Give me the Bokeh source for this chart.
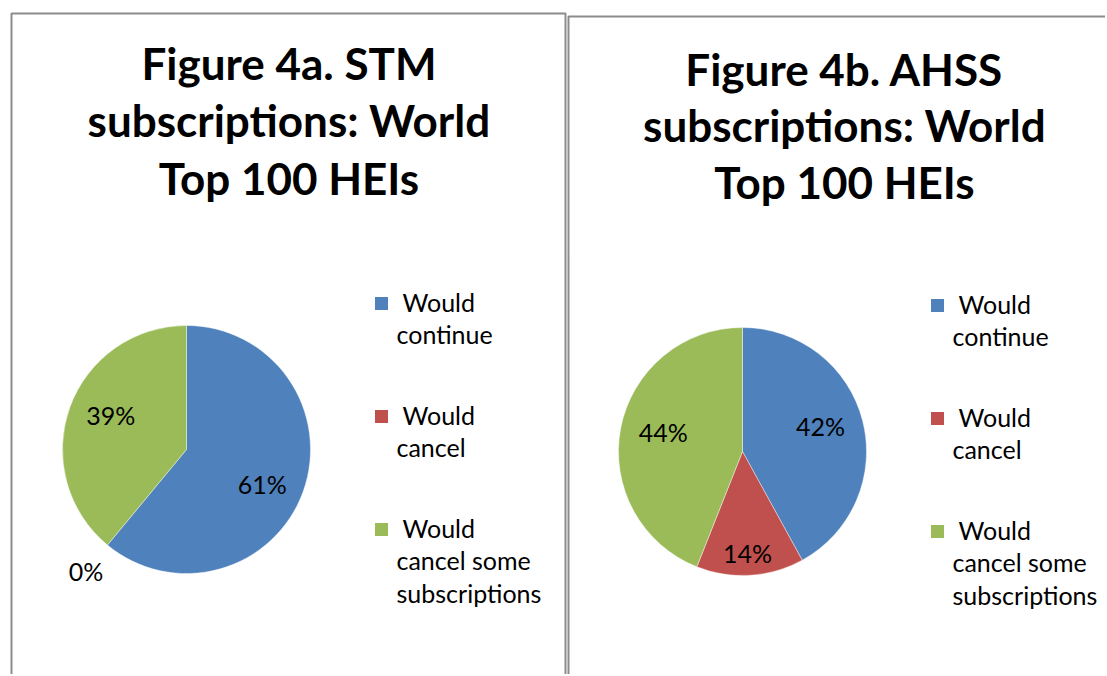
import math
from bokeh.plotting import figure
from bokeh.models import Range1d, ColumnDataSource
from bokeh.core.properties import value
from bokeh.embed import file_html
from bokeh.resources import INLINE

# ---------------- data ----------------
categories = ["Would continue", "Would cancel", "Would cancel some subscriptions"]
stm_values = [61, 0, 39]      # Figure 4a (%)
ahss_values = [42, 14, 44]    # Figure 4b (%)
colors = ["#4F81BD", "#C0504D", "#9BBB59"]
title_a = ["Figure 4a. STM", "subscriptions: World", "Top 100 HEIs"]
title_b = ["Figure 4b. AHSS", "subscriptions: World", "Top 100 HEIs"]
legend_lines = [["Would", "continue"], ["Would", "cancel"], ["Would", "cancel some", "subscriptions"]]

# ---------------- layout (screen px) ----------------
W, H = 1105, 674
FONT = "Lato"
p = figure(width=W, height=H, output_backend="svg", toolbar_location=None,
           x_range=Range1d(0, W), y_range=Range1d(-H, 0),
           x_axis_type=None, y_axis_type=None, min_border=0)
p.outline_line_color = None
p.grid.visible = False
p.background_fill_color = "white"


def Y(sy):
    return -sy


# panel borders
p.line(x=[11, 11, 565, 565], y=[Y(700), Y(13), Y(13), Y(700)], line_color="#8c8c8c", line_width=2)
p.line(x=[568, 568, 1120], y=[Y(700), Y(16), Y(16)], line_color="#8c8c8c", line_width=2)

panels = [
    dict(vals=stm_values, title=title_a, tx=288.5, tbase=[62, 119, 177],
         cx=186, cy=449, r=124, lx=381, lsq=303, ltx=396, lbase=301),
    dict(vals=ahss_values, title=title_b, tx=844, tbase=[68, 124, 181],
         cx=742, cy=451, r=124, lx=937, lsq=305, ltx=952, lbase=303),
]

for pn in panels:
    vals = pn["vals"]
    total = float(sum(vals))
    cx, cy, r = pn["cx"], Y(pn["cy"]), pn["r"]

    # wedges (clockwise from 12 o'clock)
    starts, ends, cols, lab_x, lab_y, lab_t = [], [], [], [], [], []
    cum = 0.0
    for v, c in zip(vals, colors):
        f0 = cum / total
        f1 = (cum + v) / total
        cum += v
        mid = (f0 + f1) / 2 * 2 * math.pi
        if v == 0:
            fx = fy = 1.27          # zero slice: label outside the pie
        else:
            fx, fy = 0.65, 0.82     # inside labels
        lab_x.append(cx + fx * r * math.sin(mid))
        lab_y.append(cy + fy * r * math.cos(mid))
        lab_t.append(f"{v}%")
        if v == 0:
            continue
        starts.append(math.pi / 2 - 2 * math.pi * f0)
        ends.append(math.pi / 2 - 2 * math.pi * f1)
        cols.append(c)
    src = ColumnDataSource(dict(x=[cx] * len(starts), y=[cy] * len(starts),
                                start=starts, end=ends, color=cols))
    p.wedge(x="x", y="y", radius=r, radius_units="screen", start_angle="start",
            end_angle="end", direction="clock", fill_color="color",
            line_color="white", line_width=0.8, line_alpha=0.5, source=src)

    # data labels
    p.text(x=lab_x, y=lab_y, text=lab_t, text_font=value(FONT), text_font_size="25px",
           text_color="#000000", text_align="center", text_baseline="middle")

    # title
    p.text(x=[pn["tx"]] * len(pn["title"]), y=[Y(b) for b in pn["tbase"]], text=pn["title"],
           text_font=value(FONT), text_font_style="bold", text_font_size="44px",
           text_color="#000000", text_align="center", text_baseline="alphabetic")

    # legend
    for i, (lines, c) in enumerate(zip(legend_lines, colors)):
        base = pn["lbase"] + i * 113
        p.rect(x=[pn["lx"]], y=[Y(pn["lsq"] + i * 113)], width=13, height=13,
               width_units="screen", height_units="screen", fill_color=c, line_color=None)
        xs = [pn["ltx"] + (6 if j == 0 else 0) for j in range(len(lines))]
        ys = [Y(base + j * 32.5) for j in range(len(lines))]
        p.text(x=xs, y=ys, text=lines, text_font=value(FONT), text_font_size="25px",
               text_color="#000000", text_align="left", text_baseline="alphabetic")

open("out.html", "w").write(file_html(p, INLINE))
